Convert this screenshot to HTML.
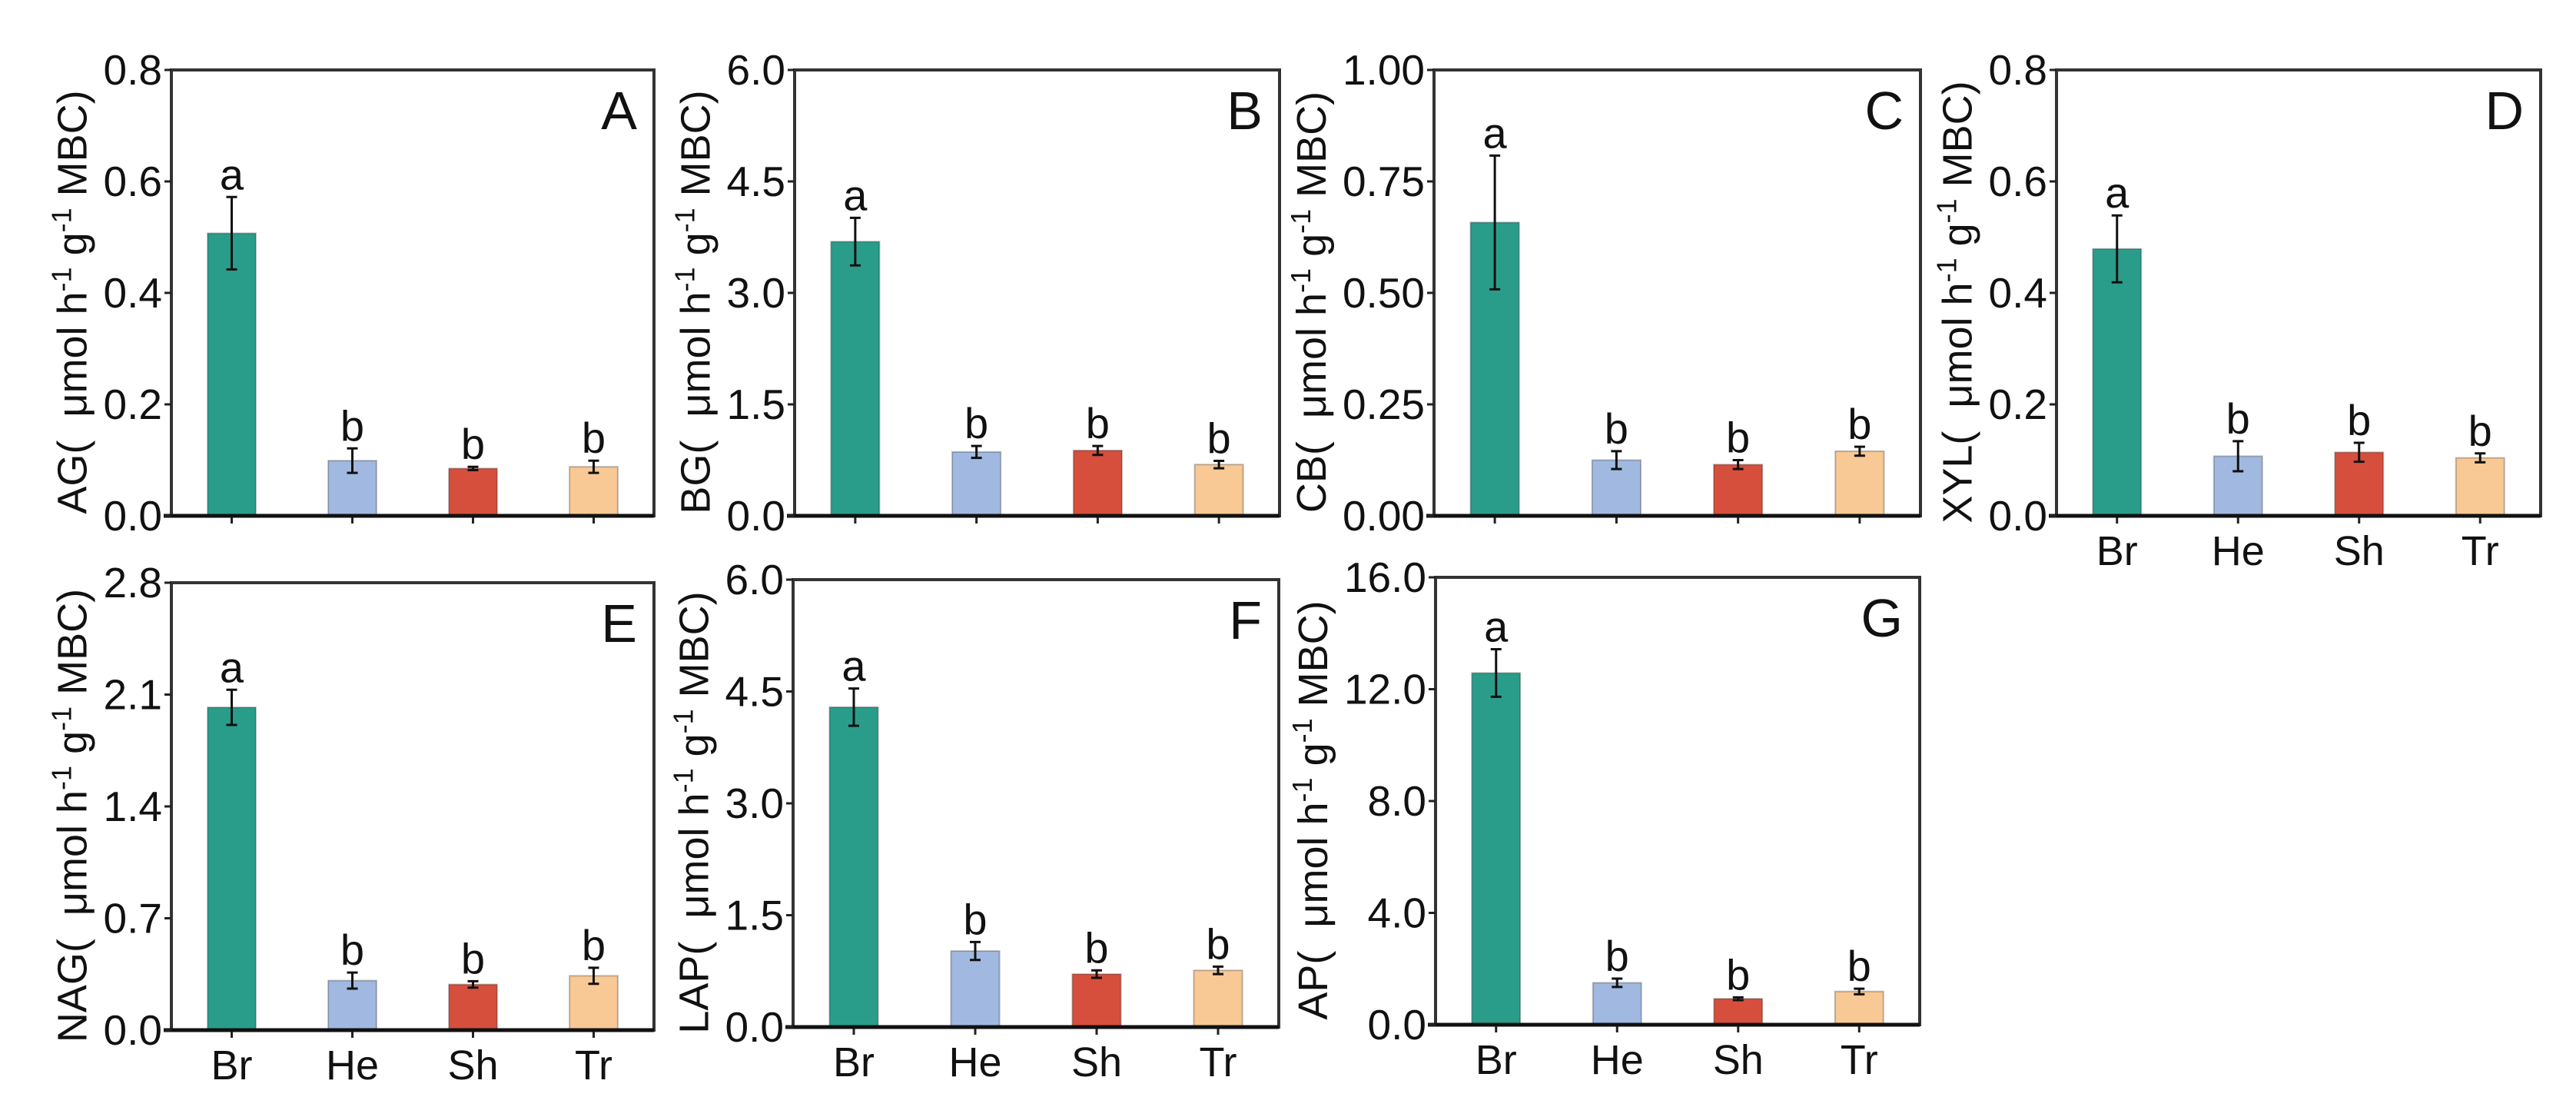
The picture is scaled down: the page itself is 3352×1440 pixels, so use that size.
<!DOCTYPE html>
<html><head><meta charset="utf-8">
<style>
html,body{margin:0;padding:0;background:#fff;}
svg{display:block;}
text{font-family:"Liberation Sans",sans-serif;fill:#111;}
</style></head>
<body>
<svg id="fig" width="3352" height="1440" viewBox="0 0 3352 1440" xmlns="http://www.w3.org/2000/svg"></svg>
<script>
const categories = ["Br","He","Sh","Tr"];
const barColors = ["#2a9d8a","#a1b9e0","#d64f3d","#f8c995"];
const groupLetters = ["a","b","b","b"];

const agMeans = [0.507,0.099,0.085,0.088];
const agErrs  = [0.065,0.022,0.003,0.011];
const agTicks = ["0.0","0.2","0.4","0.6","0.8"];

const bgMeans = [3.69,0.86,0.88,0.69];
const bgErrs  = [0.32,0.08,0.06,0.05];
const bgTicks = ["0.0","1.5","3.0","4.5","6.0"];

const cbMeans = [0.658,0.125,0.115,0.145];
const cbErrs  = [0.15,0.02,0.01,0.01];
const cbTicks = ["0.00","0.25","0.50","0.75","1.00"];

const xylMeans = [0.479,0.107,0.114,0.104];
const xylErrs  = [0.06,0.027,0.017,0.008];
const xylTicks = ["0.0","0.2","0.4","0.6","0.8"];

const nagMeans = [2.02,0.31,0.286,0.34];
const nagErrs  = [0.11,0.05,0.02,0.05];
const nagTicks = ["0.0","0.7","1.4","2.1","2.8"];

const lapMeans = [4.29,1.02,0.71,0.76];
const lapErrs  = [0.25,0.12,0.05,0.05];
const lapTicks = ["0.0","1.5","3.0","4.5","6.0"];

const apMeans = [12.58,1.50,0.93,1.19];
const apErrs  = [0.85,0.15,0.05,0.10];
const apTicks = ["0.0","4.0","8.0","12.0","16.0"];

const NS="http://www.w3.org/2000/svg";
const svg=document.getElementById('fig');
function mk(tag,attrs,parent){const e=document.createElementNS(NS,tag);for(const k in attrs)e.setAttribute(k,attrs[k]);(parent||svg).appendChild(e);return e;}

const panels=[
 {id:"A",name:"AG",means:agMeans,errs:agErrs,ticks:agTicks,x0:223,x1:851,y0:91,y1:671,xl:false},
 {id:"B",name:"BG",means:bgMeans,errs:bgErrs,ticks:bgTicks,x0:1034,x1:1665,y0:91,y1:671,xl:false},
 {id:"C",name:"CB",means:cbMeans,errs:cbErrs,ticks:cbTicks,x0:1866,x1:2499,y0:91,y1:671,xl:false},
 {id:"D",name:"XYL",means:xylMeans,errs:xylErrs,ticks:xylTicks,x0:2676,x1:3306,y0:91,y1:671,xl:true},
 {id:"E",name:"NAG",means:nagMeans,errs:nagErrs,ticks:nagTicks,x0:223,x1:851,y0:758,y1:1340,xl:true},
 {id:"F",name:"LAP",means:lapMeans,errs:lapErrs,ticks:lapTicks,x0:1032,x1:1664,y0:754,y1:1336,xl:true},
 {id:"G",name:"AP",means:apMeans,errs:apErrs,ticks:apTicks,x0:1868,x1:2498,y0:751,y1:1333,xl:true}
];

panels.forEach(p=>{
  const g=mk('g',{});
  
  
  const ymax=parseFloat(p.ticks[p.ticks.length-1]);
  const yS=v=>p.y1-(v/ymax)*(p.y1-p.y0);
  const band=(p.x1-p.x0)/categories.length;
  const xS=i=>p.x0+band*(i+0.5);
  const bw=band*0.4;
  p.means.forEach((v,i)=>{
    const r=mk('rect',{x:xS(i)-bw/2,y:yS(v),width:bw,height:p.y1-yS(v),fill:barColors[i],stroke:'rgba(0,0,0,0.25)','stroke-width':2},g);
    
    
    const e=p.errs[i], t=yS(v+e), b=yS(v-e);
    const eb=mk('path',{d:`M${xS(i)} ${t}V${b}M${xS(i)-7} ${t}H${xS(i)+7}M${xS(i)-7} ${b}H${xS(i)+7}`,stroke:'#111','stroke-width':3,fill:'none'},g);
    
    
    const lt=mk('text',{x:xS(i),y:t-10,'text-anchor':'middle','font-size':56},g);
    lt.textContent=groupLetters[i];
    
    
    const tk=mk('line',{x1:xS(i),x2:xS(i),y1:p.y1,y2:p.y1+10,stroke:'#222','stroke-width':3},g);
    
    
    if(p.xl){
      const xl=mk('text',{x:xS(i),y:p.y1+64,'text-anchor':'middle','font-size':54},g);
      xl.textContent=categories[i];
      
      
    }
  });
  const fr=mk('rect',{x:p.x0,y:p.y0,width:p.x1-p.x0,height:p.y1-p.y0,fill:'none',stroke:'#333','stroke-width':4},g);
  
  
  const xa=mk('line',{x1:p.x0-10,x2:p.x1,y1:p.y1,y2:p.y1,stroke:'#111','stroke-width':5},g);
  
  
  let maxW=0;
  p.ticks.forEach(tl=>{
    const v=parseFloat(tl), y=yS(v);
    const tk=mk('line',{x1:p.x0-9,x2:p.x0,y1:y,y2:y,stroke:'#222','stroke-width':3},g);
    
    
    const t=mk('text',{x:p.x0-12,y:y+19,'text-anchor':'end','font-size':55},g);
    t.textContent=tl;
    
    
    maxW=Math.max(maxW,t.getComputedTextLength());
  });
  const pl=mk('text',{x:p.x1-22,y:p.y0+77,'text-anchor':'end','font-size':70},g);
  pl.textContent=p.id;
  
  
  const cx=p.x0-12-maxW-40, cy=(p.y0+p.y1)/2+12;
  const yt=mk('text',{x:cx,y:cy,'text-anchor':'middle','font-size':54,transform:`rotate(-90 ${cx} ${cy})`,dy:18},g);
  
  
  yt.innerHTML=`${p.name}(&#160; μmol h<tspan dy="-20" font-size="36">-1</tspan><tspan dy="20"> g</tspan><tspan dy="-20" font-size="36">-1</tspan><tspan dy="20"> MBC)</tspan>`;
});
</script>
</body></html>
